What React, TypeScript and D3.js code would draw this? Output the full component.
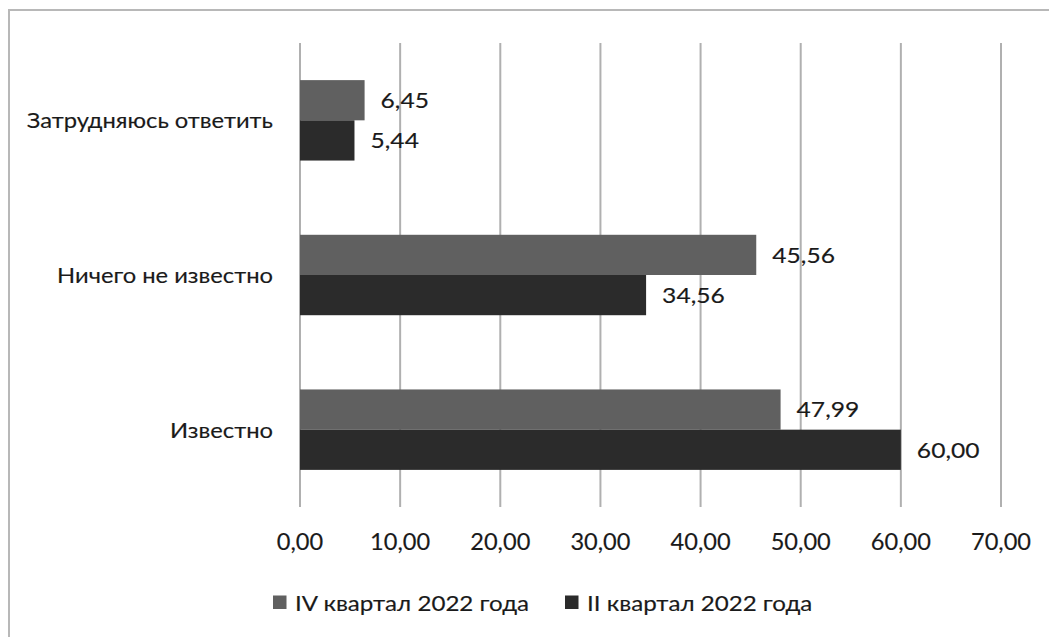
import React from "react";
import * as d3 from "d3";

const categories = ["Затрудняюсь ответить", "Ничего не известно", "Известно"];
const seriesNames = ["IV квартал 2022 года", "II квартал 2022 года"];
const seriesIV = [6.45, 45.56, 47.99];
const seriesII = [5.44, 34.56, 60.0];
const xTicks = [0, 10, 20, 30, 40, 50, 60, 70];
const colors = ["#606060", "#2b2b2b"];

const W = 1049;
const H = 637;
const FONT = "Lato, 'Open Sans', sans-serif";
const TXT = "#1a1a1a";
const fmt = (v: number) => v.toFixed(2).replace(".", ",");

type LabelProps = {
  x: number;
  y: number;
  size: number;
  sx: number;
  anchor?: "start" | "middle" | "end";
  children: React.ReactNode;
};

function Label({ x, y, size, sx, anchor = "start", children }: LabelProps) {
  return (
    <g transform={`translate(${x},${y}) scale(${sx},1)`}>
      <text
        x={0}
        y={0}
        dy="0.36em"
        textAnchor={anchor}
        fontFamily={FONT}
        fontSize={size}
        fill={TXT}
        stroke={TXT}
        strokeWidth={0.15}
      >
        {children}
      </text>
    </g>
  );
}

export default function App() {
  const x = d3.scaleLinear().domain([0, 70]).range([300, 1001]);
  const y = d3.scaleBand<string>().domain(categories).range([43, 507]).paddingInner(0.48).paddingOuter(0.24);
  const inner = d3.scaleBand<number>().domain([0, 1]).range([0, y.bandwidth()]);
  const series = [seriesIV, seriesII];
  const legendX = [273, 565];

  return (
    <div style={{ position: "absolute", left: 0, top: 0 }}>
      <svg width={W} height={H} style={{ display: "block", background: "#fff" }}>
        <path d={`M9,${H} V10 H${W}`} fill="none" stroke="#b8b8b8" strokeWidth={2} />
        {xTicks.map((t) => (
          <line key={t} x1={x(t)} x2={x(t)} y1={43} y2={507} stroke="#b0b0b0" strokeWidth={2} />
        ))}
        {categories.map((c, ci) =>
          series.map((s, si) => (
            <g key={c + si}>
              <rect
                x={x(0)}
                y={(y(c) as number) + (inner(si) as number)}
                width={x(s[ci]) - x(0)}
                height={inner.bandwidth()}
                fill={colors[si]}
              />
              <Label
                x={x(s[ci]) + 16}
                y={(y(c) as number) + (inner(si) as number) + inner.bandwidth() / 2}
                size={22}
                sx={1.12}
              >
                {fmt(s[ci])}
              </Label>
            </g>
          ))
        )}
        {categories.map((c) => (
          <Label key={c} x={273} y={(y(c) as number) + y.bandwidth() / 2} size={22} sx={1.08} anchor="end">
            {c}
          </Label>
        ))}
        {xTicks.map((t) => (
          <Label key={t} x={x(t)} y={542} size={22.5} sx={1.05} anchor="middle">
            {fmt(t)}
          </Label>
        ))}
        {seriesNames.map((n, i) => (
          <g key={n}>
            <rect x={legendX[i]} y={595.5} width={13.5} height={13.5} fill={colors[i]} />
            <Label x={legendX[i] + 22} y={603} size={21} sx={1.15}>
              {n}
            </Label>
          </g>
        ))}
      </svg>
    </div>
  );
}
